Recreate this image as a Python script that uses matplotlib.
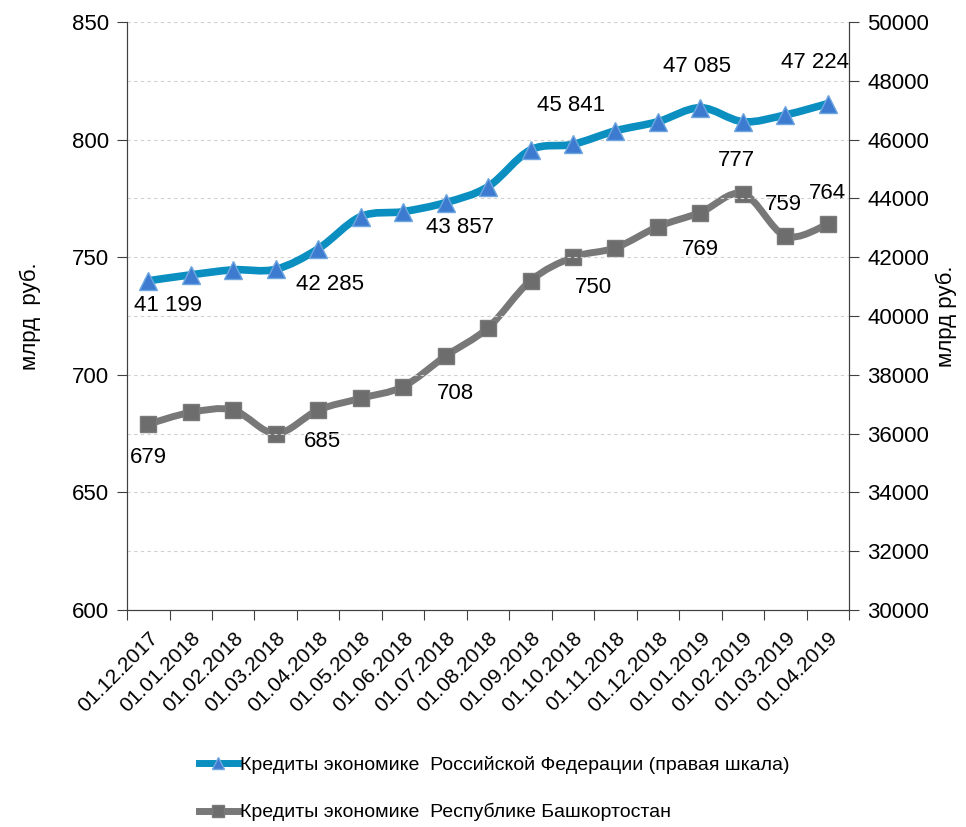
# loans to the economy: Russian Federation (right scale) vs Republic of Bashkortostan (left scale)

import matplotlib.pyplot as plt
from matplotlib.path import Path
from matplotlib.patches import PathPatch
from matplotlib.lines import Line2D
from matplotlib import ticker

plt.rcParams["font.family"] = ["Liberation Sans", "DejaVu Sans"]

dates = [
    "01.12.2017", "01.01.2018", "01.02.2018", "01.03.2018", "01.04.2018",
    "01.05.2018", "01.06.2018", "01.07.2018", "01.08.2018", "01.09.2018",
    "01.10.2018", "01.11.2018", "01.12.2018", "01.01.2019", "01.02.2019",
    "01.03.2019", "01.04.2019",
]

# Republic of Bashkortostan, bln rub (left axis)
bash = [679, 684, 685, 675, 685, 690, 695, 708, 720, 740,
        750, 754, 763, 769, 777, 759, 764]

# Russian Federation, bln rub (right axis)
rf = [41199, 41400, 41570, 41590, 42285, 43380, 43550, 43857, 44400, 45650,
      45841, 46300, 46610, 47085, 46610, 46840, 47224]

# which points get a label and where (offset in pixels)
bash_labels = {0: (0, -33), 4: (4, -31), 7: (10, -38), 10: (20, -30),
               13: (0, -37), 14: (-6, 33), 15: (-2, 32), 16: (0, 31)}
rf_labels = {0: (20, -25), 4: (12, -36), 7: (14, -25), 10: (-2, 39),
             13: (-3, 41), 16: (-13, 41)}

blue = "#0a8fc0"
gray = "#787878"

x = list(range(len(dates)))


def smooth_path(xs, ys):
    # excel-like smoothed line: cubic bezier between neighbouring points
    verts = [(xs[0], ys[0])]
    codes = [Path.MOVETO]
    n = len(xs)
    for i in range(n - 1):
        p0 = (xs[max(i - 1, 0)], ys[max(i - 1, 0)])
        p1 = (xs[i], ys[i])
        p2 = (xs[i + 1], ys[i + 1])
        p3 = (xs[min(i + 2, n - 1)], ys[min(i + 2, n - 1)])
        c1 = (p1[0] + (p2[0] - p0[0]) / 6, p1[1] + (p2[1] - p0[1]) / 6)
        c2 = (p2[0] - (p3[0] - p1[0]) / 6, p2[1] - (p3[1] - p1[1]) / 6)
        verts += [c1, c2, p2]
        codes += [Path.CURVE4] * 3
    return Path(verts, codes)


fig = plt.figure(figsize=(9.66, 8.27), dpi=100)
ax = fig.add_axes([0.1315, 0.2624, 0.7475, 0.711])
ax2 = ax.twinx()

ax.set_ylim(600, 850)
ax.set_xlim(-0.5, len(dates) - 0.5)
ax.yaxis.set_major_locator(ticker.MultipleLocator(50))
ax2.set_ylim(30000, 50000)
ax2.yaxis.set_major_locator(ticker.MultipleLocator(2000))
ax2.grid(axis="y", color="#d0d0d0", linestyle=(0, (3, 3)), linewidth=0.8)
ax2.set_axisbelow(True)

# gray series on left axis
ax.add_patch(PathPatch(smooth_path(x, bash), fill=False, edgecolor=gray,
                       linewidth=5, capstyle="round", joinstyle="round", zorder=3))
ax.plot(x, bash, linestyle="none", marker="s", markersize=12,
        markerfacecolor="#6d6d6d", markeredgecolor="#7a7a7a", zorder=4)

# blue series on right axis
ax2.add_patch(PathPatch(smooth_path(x, rf), fill=False, edgecolor=blue,
                        linewidth=5.5, capstyle="round", joinstyle="round", zorder=3))
ax2.plot(x, rf, linestyle="none", marker="^", markersize=13,
         markerfacecolor="#3d7bd0", markeredgecolor="#6ea6e0", zorder=4)

for i, (dx, dy) in bash_labels.items():
    ax.annotate(str(bash[i]), (x[i], bash[i]), xytext=(dx, dy),
                textcoords="offset pixels", ha="center", va="center", fontsize=16)
for i, (dx, dy) in rf_labels.items():
    lbl = "{:,}".format(rf[i]).replace(",", " ")
    ax2.annotate(lbl, (x[i], rf[i]), xytext=(dx, dy),
                 textcoords="offset pixels", ha="center", va="center", fontsize=16)

ax.set_xticks([i - 0.5 for i in range(len(dates) + 1)])
ax.set_xticklabels([])
ax.tick_params(axis="x", length=7, color="#404040")
ax.set_xticks(x, minor=True)
ax.set_xticklabels(dates, minor=True, rotation=45, ha="right", va="top",
                   rotation_mode="anchor", fontsize=15)
ax.tick_params(axis="x", which="minor", length=0, pad=13)

ax.tick_params(axis="y", labelsize=16, length=7, color="#404040", pad=6)
ax2.tick_params(axis="y", labelsize=16, length=7, color="#404040", pad=6)

for a in (ax, ax2):
    a.spines["top"].set_visible(False)
    for s in ("left", "right", "bottom"):
        a.spines[s].set_color("#404040")

ax.set_ylabel("млрд  руб.", fontsize=16, va="center")
ax.yaxis.set_label_coords(-0.134, 0.5)
ax2.set_ylabel("млрд руб.", fontsize=16, va="center")
ax2.yaxis.set_label_coords(1.135, 0.5)

handles = [
    Line2D([], [], color=blue, linewidth=5, marker="^", markersize=9,
           markerfacecolor="#3d7bd0", markeredgecolor="#6ea6e0"),
    Line2D([], [], color=gray, linewidth=5, marker="s", markersize=9,
           markerfacecolor="#6d6d6d", markeredgecolor="#7a7a7a"),
]
leg = fig.legend(handles,
                 ["Кредиты экономике  Российской Федерации (правая шкала)",
                  "Кредиты экономике  Республике Башкортостан"],
                 loc="upper left", bbox_to_anchor=(0.206, 1 - 756 / 827),
                 frameon=False, fontsize=14, handlelength=2.0, handletextpad=0.1,
                 labelspacing=1.5, borderaxespad=0, borderpad=0)

plt.savefig("out.png", dpi=100)
